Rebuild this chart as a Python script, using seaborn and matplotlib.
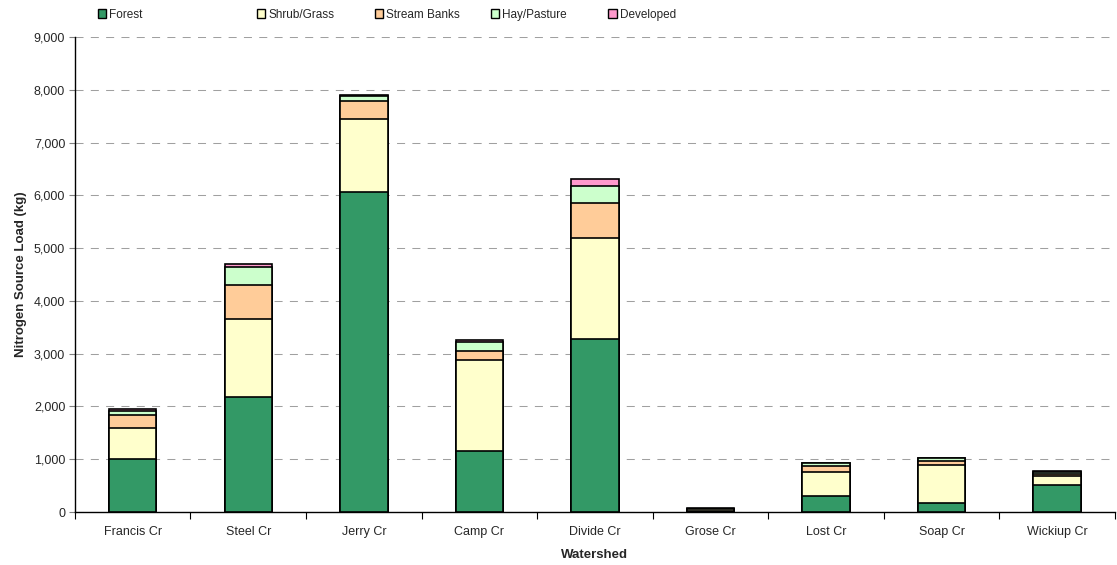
import numpy as np
import pandas as pd
import matplotlib
matplotlib.use("Agg")
import matplotlib.pyplot as plt
from matplotlib.patches import Patch
from matplotlib.ticker import FuncFormatter, FixedLocator
import seaborn as sns

# Nitrogen source loads by watershed (kg)
watersheds = ["Francis Cr", "Steel Cr", "Jerry Cr", "Camp Cr", "Divide Cr",
              "Grose Cr", "Lost Cr", "Soap Cr", "Wickiup Cr"]
forest = [1000, 2180, 6065, 1160, 3280, 15, 300, 175, 510]
shrub_grass = [590, 1470, 1390, 1715, 1920, 35, 465, 715, 175]
stream_banks = [250, 650, 330, 170, 660, 10, 105, 85, 40]
hay_pasture = [80, 340, 95, 180, 315, 5, 50, 50, 40]
developed = [30, 50, 30, 30, 135, 2, 15, 5, 10]

sources = ["Forest", "Shrub/Grass", "Stream Banks", "Hay/Pasture", "Developed"]
colors = ["#339966", "#FFFFCC", "#FFCC99", "#CCFFCC", "#FF99CC"]
yticks = [0, 1000, 2000, 3000, 4000, 5000, 6000, 7000, 8000, 9000]

sns.set_theme(style="white")
plt.rcParams["font.family"] = ["Liberation Sans", "DejaVu Sans"]

df = pd.DataFrame({"Watershed": watersheds, "Forest": forest,
                   "Shrub/Grass": shrub_grass, "Stream Banks": stream_banks,
                   "Hay/Pasture": hay_pasture, "Developed": developed})
cum = df[sources].cumsum(axis=1)

fig = plt.figure(figsize=(11.17, 5.65), dpi=100)
ax = fig.add_axes([0.0671, 0.0938, 0.931, 0.8407])

# stacked bars: draw cumulative totals from the top layer down
for src, col in zip(reversed(sources), reversed(colors)):
    sns.barplot(x=df["Watershed"], y=cum[src], color=col, edgecolor="black",
                linewidth=1.2, width=0.41, ax=ax, saturation=1, zorder=3)

ax.set_ylim(0, 9000)
ax.set_xlim(-0.5, len(watersheds) - 0.5)
ax.yaxis.set_major_locator(FixedLocator(yticks))
ax.yaxis.set_major_formatter(FuncFormatter(lambda v, p: f"{int(v):,}"))
ax.grid(axis="y", color="#A0A0A0", linewidth=0.75,
        linestyle=(0, (7.7, 7)), zorder=0)
ax.grid(axis="x", visible=False)

for s in ["top", "right"]:
    ax.spines[s].set_visible(False)
for s in ["left", "bottom"]:
    ax.spines[s].set_color("black")
    ax.spines[s].set_linewidth(1.0)

ax.tick_params(axis="y", which="major", length=4, width=0.8, color="#808080",
               direction="out", labelsize=9, pad=3, left=True)
ax.tick_params(axis="x", which="major", length=0, labelsize=9, pad=10)
ax.set_xticks(np.arange(-0.5, len(watersheds) + 0.5, 1), minor=True)
ax.tick_params(axis="x", which="minor", length=5, width=0.8, color="black",
               direction="out", bottom=True)

ax.set_xlabel("Watershed", fontsize=9.5, fontweight="bold", labelpad=8)
ax.set_ylabel("Nitrogen Source Load (kg)", fontsize=9.5, fontweight="bold",
              labelpad=5)

# legend entries spread along the top edge
legend_x = [0.0835, 0.226, 0.3315, 0.4355, 0.5405]
for src, col, lx in zip(sources, colors, legend_x):
    fig.legend(handles=[Patch(facecolor=col, edgecolor="black", linewidth=1.0)],
               labels=[src], loc="upper left", bbox_to_anchor=(lx, 0.993),
               frameon=False, fontsize=8.5, handlelength=0.7, handleheight=0.7,
               handletextpad=0.25, borderpad=0.2, borderaxespad=0.2)

fig.savefig("out.png", dpi=100)
